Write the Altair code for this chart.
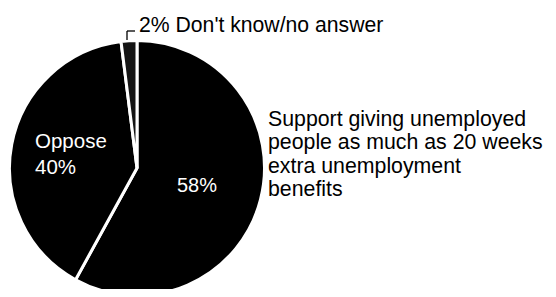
import altair as alt
import pandas as pd

# Data
categories = ["Support", "Oppose", "Don't know/no answer"]
shares = [58, 40, 2]
slice_colors = ["#000000", "#000000", "#141414"]

support_label = ["Support giving unemployed", "people as much as 20 weeks",
                 "extra unemployment", "benefits"]
oppose_label = ["Oppose", "40%"]
support_pct = "58%"
dk_label = "2% Don't know/no answer"

FONT = "Liberation Sans"

df = pd.DataFrame({"category": categories, "share": shares,
                   "idx": list(range(len(categories)))})

CX, CY = 129, 160

pie = alt.Chart(df).mark_arc(radius=127.5, stroke="white", strokeWidth=3).encode(
    theta=alt.Theta("share:Q", stack=True),
    order=alt.Order("idx:Q"),
    color=alt.Color("category:N", scale=alt.Scale(domain=categories, range=slice_colors), legend=None),
    x=alt.value(CX), y=alt.value(CY),
)

def text_layer(lines, x, y, color, size, lh):
    d = pd.DataFrame({"t": ["\n".join(lines) if isinstance(lines, list) else lines]})
    return alt.Chart(d).mark_text(
        align="left", baseline="alphabetic", font=FONT, fontSize=size,
        color=color, lineBreak="\n", lineHeight=lh,
    ).encode(text="t:N", x=alt.value(x), y=alt.value(y))

t_support = text_layer(support_label, 260, 118, "black", 21.3, 23.3)
t_oppose = text_layer(oppose_label, 27, 140, "white", 20.5, 26)
t_58 = text_layer(support_pct, 169, 184, "white", 20, 20)
t_dk = text_layer(dk_label, 131, 24, "black", 21.2, 21)

# leader bracket for the 2% slice
bracket_v = alt.Chart(pd.DataFrame({"a": [0]})).mark_rule(color="black", strokeWidth=1.3).encode(
    x=alt.value(119), y=alt.value(23), y2=alt.value(32))
bracket_h = alt.Chart(pd.DataFrame({"a": [0]})).mark_rule(color="black", strokeWidth=1.3).encode(
    x=alt.value(119), x2=alt.value(127), y=alt.value(23))

chart = alt.layer(pie, bracket_v, bracket_h, t_dk, t_support, t_oppose, t_58).properties(
    width=540, height=281, padding=0,
    autosize=alt.AutoSizeParams(type="none"),
    background="white",
).configure_view(strokeWidth=0)

chart.save("out.html", embed_options={"renderer": "svg", "actions": False})
